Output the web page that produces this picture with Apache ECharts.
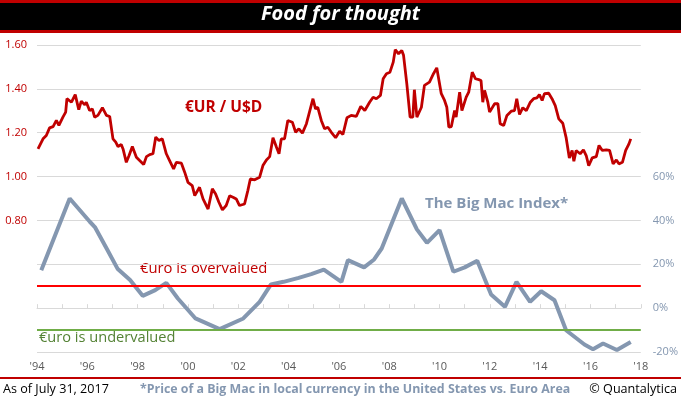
<!DOCTYPE html>
<html>
<head>
<meta charset="utf-8">
<title>Food for thought</title>
<script src="https://cdn.jsdelivr.net/npm/echarts@6/dist/echarts.min.js"></script>
<style>
  html, body { margin: 0; padding: 0; background: #fff; }
  #chart { width: 681px; height: 399px; }
</style>
</head>
<body>
<div id="chart"></div>
<script>
// EUR/USD exchange rate (decimal year, rate)
const eurusdYears = [
  1994.04, 1994.24, 1994.37, 1994.5, 1994.64, 1994.77, 1994.87, 1995.03, 1995.14, 1995.19,
  1995.37, 1995.52, 1995.66, 1995.76, 1995.9, 1995.96, 1996.09, 1996.2, 1996.29, 1996.42,
  1996.6, 1996.76, 1996.89, 1997.02, 1997.13, 1997.22, 1997.35, 1997.42, 1997.55, 1997.66,
  1997.79, 1997.95, 1998.08, 1998.24, 1998.35, 1998.48, 1998.61, 1998.72, 1998.85, 1998.98,
  1999.14, 1999.27, 1999.43, 1999.54, 1999.74, 1999.87, 2000.0, 2000.17, 2000.27, 2000.46,
  2000.6, 2000.8, 2000.97, 2001.1, 2001.23, 2001.37, 2001.52, 2001.66, 2001.81, 2001.92,
  2002.05, 2002.25, 2002.38, 2002.48, 2002.65, 2002.85, 2002.98, 2003.12, 2003.25, 2003.38,
  2003.52, 2003.62, 2003.71, 2003.84, 2003.97, 2004.15, 2004.28, 2004.41, 2004.55, 2004.71,
  2004.83, 2004.97, 2005.07, 2005.16, 2005.3, 2005.43, 2005.56, 2005.7, 2005.87, 2006.03,
  2006.16, 2006.32, 2006.49, 2006.69, 2006.87, 2007.03, 2007.22, 2007.36, 2007.49, 2007.65,
  2007.76, 2007.89, 2008.03, 2008.16, 2008.24, 2008.37, 2008.5, 2008.57, 2008.7, 2008.83,
  2008.94, 2009.0, 2009.1, 2009.28, 2009.4, 2009.6, 2009.76, 2009.89, 2010.07, 2010.2,
  2010.29, 2010.37, 2010.47, 2010.6, 2010.66, 2010.8, 2010.89, 2011.06, 2011.16, 2011.3,
  2011.43, 2011.56, 2011.65, 2011.72, 2011.79, 2011.92, 2011.99, 2012.19, 2012.32, 2012.41,
  2012.55, 2012.68, 2012.85, 2012.98, 2013.07, 2013.18, 2013.31, 2013.45, 2013.61, 2013.74,
  2013.87, 2013.97, 2014.08, 2014.17, 2014.34, 2014.47, 2014.6, 2014.74, 2014.9, 2015.03,
  2015.16, 2015.27, 2015.34, 2015.43, 2015.59, 2015.72, 2015.83, 2015.93, 2016.07, 2016.23,
  2016.34, 2016.47, 2016.63, 2016.76, 2016.9, 2017.03, 2017.13, 2017.27, 2017.4, 2017.53,
  2017.6
];
const eurusdValues = [
  1.126, 1.172, 1.187, 1.222, 1.228, 1.256, 1.233, 1.271, 1.294, 1.355,
  1.339, 1.374, 1.305, 1.344, 1.327, 1.339, 1.301, 1.309, 1.271, 1.279,
  1.314, 1.279, 1.274, 1.172, 1.157, 1.137, 1.146, 1.126, 1.065, 1.096,
  1.137, 1.088, 1.073, 1.055, 1.091, 1.100, 1.104, 1.180, 1.164, 1.172,
  1.104, 1.073, 1.035, 1.065, 1.061, 1.020, 0.974, 0.959, 0.913, 0.951,
  0.898, 0.852, 0.944, 0.921, 0.883, 0.848, 0.868, 0.913, 0.905, 0.898,
  0.868, 0.875, 0.936, 0.989, 0.985, 0.997, 1.050, 1.076, 1.091, 1.177,
  1.134, 1.104, 1.172, 1.172, 1.256, 1.248, 1.202, 1.218, 1.198, 1.241,
  1.294, 1.355, 1.309, 1.316, 1.256, 1.218, 1.225, 1.202, 1.177, 1.207,
  1.192, 1.268, 1.279, 1.274, 1.320, 1.301, 1.339, 1.362, 1.355, 1.370,
  1.446, 1.469, 1.476, 1.522, 1.579, 1.560, 1.575, 1.553, 1.423, 1.271,
  1.271, 1.396, 1.271, 1.316, 1.416, 1.431, 1.469, 1.496, 1.378, 1.347,
  1.316, 1.225, 1.228, 1.301, 1.271, 1.385, 1.301, 1.362, 1.385, 1.476,
  1.446, 1.442, 1.438, 1.339, 1.393, 1.339, 1.294, 1.332, 1.332, 1.241,
  1.233, 1.279, 1.298, 1.301, 1.355, 1.283, 1.314, 1.301, 1.339, 1.355,
  1.359, 1.374, 1.347, 1.378, 1.380, 1.355, 1.324, 1.263, 1.243, 1.179,
  1.085, 1.119, 1.070, 1.119, 1.104, 1.122, 1.096, 1.050, 1.085, 1.091,
  1.142, 1.119, 1.122, 1.119, 1.058, 1.076, 1.058, 1.065, 1.119, 1.149,
  1.172
];

// Big Mac Index: euro over/under valuation vs USD, %
const bigMacYears = [
  1994.17, 1995.3, 1996.1, 1996.3, 1996.8, 1997.2, 1997.7, 1998.2, 1998.7, 1999.14,
  1999.6, 2000.3, 2001.26, 2002.2, 2002.85, 2003.3, 2003.8, 2004.4, 2004.9, 2005.4,
  2006.1, 2006.36, 2007.0, 2007.4, 2007.7, 2008.5, 2009.1, 2009.5, 2010.0, 2010.55,
  2011.0, 2011.5, 2012.05, 2012.6, 2013.06, 2013.6, 2014.04, 2014.57, 2015.03, 2015.76,
  2016.1, 2016.5, 2017.05, 2017.6
];
const bigMacValues = [
  17.3, 50, 39.4, 37, 26.5, 18, 12.8, 5.6, 8.2, 11.5,
  4.4, -4.7, -9.6, -4.7, 2.9, 10.8, 12, 13.8, 15.5, 17.6,
  12, 21.9, 18.6, 22.2, 27.2, 50, 35.9, 29.8, 35.6, 16.6,
  18.6, 21.6, 6.2, 0.6, 12, 2.9, 7.7, 3.6, -10.1, -16.6,
  -18.7, -16.1, -19.1, -15.4
];

const overvaluedLevel = 10;
const undervaluedLevel = -10;

const RED = '#C00000';
const GREY_BLUE = '#8497B0';
const GRID = '#D9D9D9';
const FONT = '"Open Sans", "DejaVu Sans", sans-serif';

function zip(xs, ys) { return xs.map((x, i) => [x, ys[i]]); }

const chart = echarts.init(document.getElementById('chart'));

chart.setOption({
  animation: false,
  textStyle: { fontFamily: FONT },
  grid: { left: 37, right: 38, top: 45, bottom: 47, containLabel: false },
  xAxis: {
    type: 'value', min: 1994, max: 2018, interval: 1,
    axisLine: { lineStyle: { color: GRID, width: 1 } },
    axisTick: { show: true, inside: true, length: 4, lineStyle: { color: GRID } },
    splitLine: { show: false },
    axisLabel: {
      color: '#595959', fontSize: 11, fontFamily: FONT, margin: 9,
      formatter: v => (Math.round(v) % 2 === 0 ? "'" + String(Math.round(v)).slice(2) : '')
    }
  },
  yAxis: [
    {
      type: 'value', min: 0.2, max: 1.6, interval: 0.2, position: 'left',
      axisLine: { show: false }, axisTick: { show: false },
      splitLine: { lineStyle: { color: GRID, width: 1 } },
      axisLabel: {
        color: RED, fontSize: 11, fontFamily: FONT, margin: 10,
        formatter: v => (v > 0.75 ? v.toFixed(2) : '')
      }
    },
    {
      type: 'value', min: -20, max: 120, interval: 20, position: 'right',
      axisLine: { show: false }, axisTick: { show: false },
      splitLine: { show: false },
      axisLabel: {
        color: GREY_BLUE, fontSize: 11, fontFamily: FONT, margin: 12,
        formatter: v => (v <= 60 ? Math.round(v) + '%' : '')
      }
    }
  ],
  series: [
    {
      name: 'Big Mac Index', type: 'line', yAxisIndex: 1,
      data: zip(bigMacYears, bigMacValues),
      showSymbol: false, smooth: false,
      lineStyle: { color: GREY_BLUE, width: 4 },
      z: 2,
      markLine: {
        silent: true, symbol: 'none', label: { show: false },
        data: [
          { yAxis: overvaluedLevel, lineStyle: { color: '#FF0000', width: 2, type: 'solid' } },
          { yAxis: undervaluedLevel, lineStyle: { color: '#70AD47', width: 2, type: 'solid' } }
        ]
      }
    },
    {
      name: 'EUR/USD', type: 'line', yAxisIndex: 0,
      data: zip(eurusdYears, eurusdValues),
      showSymbol: false, smooth: false,
      lineStyle: { color: RED, width: 2.8 },
      z: 3
    }
  ],
  graphic: [
    // title bar
    { type: 'rect', left: 0, top: 0, shape: { width: 681, height: 33 }, style: { fill: RED }, silent: true },
    { type: 'rect', left: 0, top: 3, shape: { width: 681, height: 27 }, style: { fill: '#000' }, silent: true },
    {
      type: 'text', left: 'center', top: 4,
      style: { text: 'Food for thought', fill: '#fff', font: 'italic bold 20px ' + FONT }
    },
    // annotations
    { type: 'text', left: 185, top: 100, style: { text: '€UR / U$D', fill: RED, font: 'bold 15.5px ' + FONT } },
    { type: 'text', left: 425, top: 196, style: { text: 'The Big Mac Index*', fill: GREY_BLUE, font: 'bold 15px ' + FONT } },
    { type: 'text', left: 140, top: 261, style: { text: '€uro is overvalued', fill: RED, font: '14.8px ' + FONT } },
    { type: 'text', left: 39, top: 330, style: { text: '€uro is undervalued', fill: '#548235', font: '14.6px ' + FONT } },
    // footer
    { type: 'rect', left: 0, top: 377, shape: { width: 681, height: 2 }, style: { fill: RED }, silent: true },
    { type: 'text', left: 3, top: 383, style: { text: 'As of July 31, 2017', fill: '#000', font: '12.6px ' + FONT } },
    {
      type: 'text', left: 140, top: 383,
      style: { text: '*Price of a Big Mac in local currency in the United States vs. Euro Area', fill: GREY_BLUE, font: 'bold 12.4px ' + FONT }
    },
    { type: 'text', right: 4, top: 383, style: { text: '© Quantalytica', fill: '#000', font: '12.6px ' + FONT } }
  ]
});
</script>
</body>
</html>
